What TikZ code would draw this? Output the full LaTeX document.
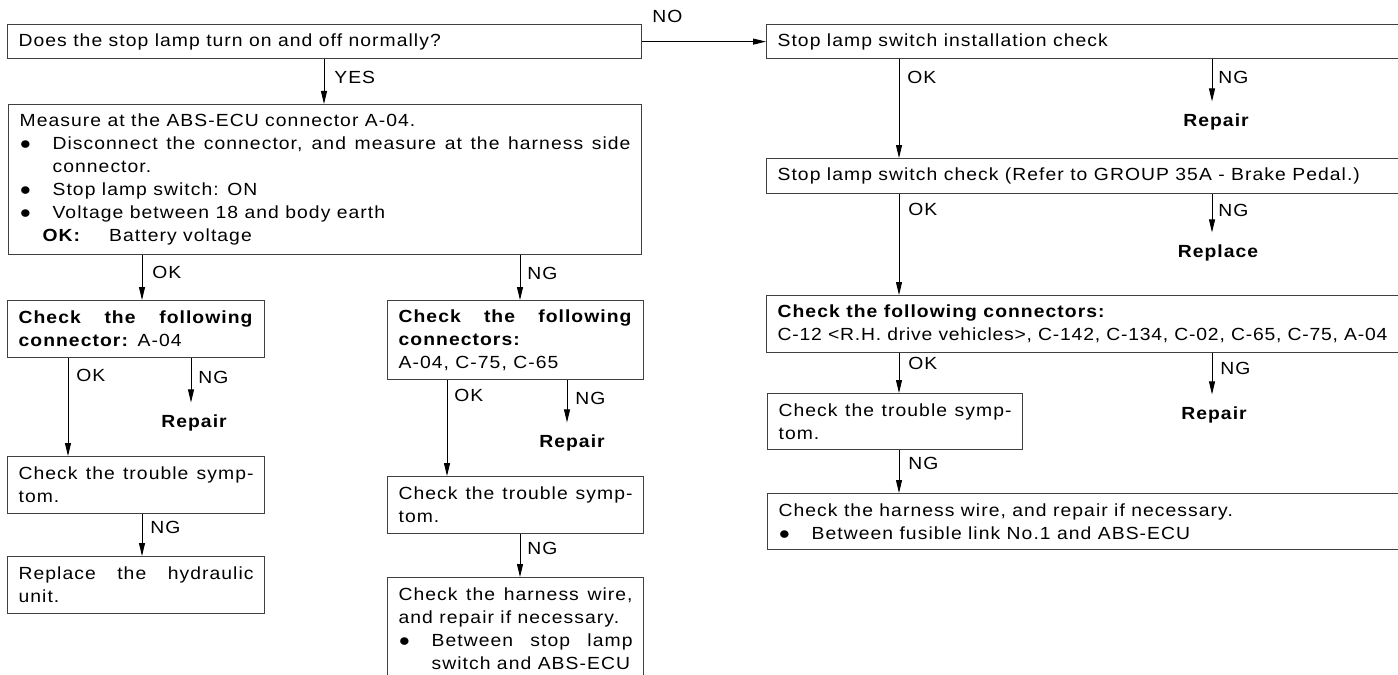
\documentclass[tikz,border=0pt]{standalone}
\usepackage{fontspec}
\setmainfont{Liberation Sans}[FakeStretch=1.1, LetterSpace=6]
\newfontfamily\tightfont{Liberation Sans}[FakeStretch=1.1, LetterSpace=4.5]
\usetikzlibrary{arrows.meta}
\setlength{\parindent}{0pt}
\newcommand{\bitem}{\hangindent=0.66cm\hangafter=1\makebox[0.66cm][l]{●}}

\begin{document}
\begin{tikzpicture}[x=0.02cm, y=-0.02cm,
    box/.style={draw=black!75, line width=0.7pt, anchor=north west, inner xsep=0.22cm, inner ysep=0pt,
        align=justify, font=\fontsize{10}{13.1}\selectfont},
    lbl/.style={anchor=west, inner sep=0pt, font=\fontsize{10}{13.1}\selectfont},
    word/.style={anchor=base, inner sep=0pt, font=\fontsize{10}{13.1}\selectfont\bfseries},
    arr/.style={-{Triangle[length=0.26cm, width=0.12cm]}, line width=0.5pt}]
    \useasboundingbox (0,0) rectangle (1398,675);
    \clip (0,0) rectangle (1398,675);
    \fill[white] (0,0) rectangle (1398,675);

    % 判断框
    \node[box, text width=12.24cm, minimum height=0.68cm] (q) at (7,24) {Does the stop lamp turn on and off normally?};

    % 左列
    \node[box, text width=12.22cm, minimum height=3cm] (m) at (8,104) {Measure at the ABS-ECU connector A-04.\par
        \bitem Disconnect the connector, and measure at the harness side\linebreak connector.\par
        \bitem Stop lamp switch: ON\par
        \bitem Voltage between 18 and body earth\par
        \hspace*{0.46cm}\textbf{OK:}\hspace{0.56cm}Battery voltage};
    \node[box, text width=4.7cm, minimum height=1.14cm] (c1) at (7,300) {\textbf{Check the following}\linebreak\textbf{connector:} A-04};
    \node[box, text width=4.68cm, minimum height=1.58cm] (c2) at (387,300) {\textbf{Check the following}\linebreak\textbf{connectors:}\par A-04, C-75, C-65};
    \node[box, text width=4.7cm, minimum height=1.14cm] (t1) at (7,456) {Check the trouble symp-\linebreak tom.};
    \node[box, text width=4.7cm, minimum height=1.14cm] (h1) at (7,556) {Replace the hydraulic\linebreak unit.};
    \node[box, text width=4.68cm, minimum height=1.14cm] (t2) at (387,476) {Check the trouble symp-\linebreak tom.};
    \node[box, text width=4.68cm, minimum height=2.04cm] (w2) at (387,577) {Check the harness wire,\linebreak and repair if necessary.\par
        \bitem Between stop lamp\linebreak switch and ABS-ECU\par};

    % 右列
    \node[box, text width=12.28cm, minimum height=0.68cm] (r1) at (766,24) {Stop lamp switch installation check};
    \node[box, text width=12.28cm, minimum height=0.7cm] (r2) at (766,158) {Stop lamp switch check (Refer to GROUP 35A - Brake Pedal.)};
    \node[box, text width=12.28cm, minimum height=1.14cm] (r3) at (766,295) {\textbf{Check the following connectors:}\par
        {\tightfont C-12 <R.H. drive vehicles>, C-142, C-134, C-02, C-65, C-75, A-04}};
    \node[box, text width=4.66cm, minimum height=1.12cm] (t3) at (767,393) {Check the trouble symp-\linebreak tom.};
    \node[box, text width=12.26cm, minimum height=1.12cm] (w3) at (767,493) {Check the harness wire, and repair if necessary.\par
        \bitem Between fusible link No.1 and ABS-ECU\par};

    % 处理结果
    \node[word] (rep1) at (194,427.5) {Repair};
    \node[word] (rep2) at (572,447.5) {Repair};
    \node[word] (rep3) at (1216,126.5) {Repair};
    \node[word] (rep4) at (1218,257.5) {Replace};
    \node[word] (rep5) at (1214,419.5) {Repair};

    % 箭头位置
    \foreach \n/\x in {yes/324, okA/142, ngA/520, okB/68, ngB/191, okC/447, ngC/567, okD/899, ngD/1212}
        \coordinate (\n) at (\x,0);

    % 箭头
    \draw[arr] (q.east) -- (r1.west);
    \draw[arr] (q.south -| yes) -- (m.north -| yes);
    \draw[arr] (m.south -| okA) -- (c1.north -| okA);
    \draw[arr] (m.south -| ngA) -- (c2.north -| ngA);
    \draw[arr] (c1.south -| okB) -- (t1.north -| okB);
    \draw[arr, shorten >=0.24cm] (c1.south -| ngB) -- (rep1.north -| ngB);
    \draw[arr] (t1.south -| okA) -- (h1.north -| okA);
    \draw[arr] (c2.south -| okC) -- (t2.north -| okC);
    \draw[arr, shorten >=0.24cm] (c2.south -| ngC) -- (rep2.north -| ngC);
    \draw[arr] (t2.south -| ngA) -- (w2.north -| ngA);
    \draw[arr] (r1.south -| okD) -- (r2.north -| okD);
    \draw[arr, shorten >=0.24cm] (r1.south -| ngD) -- (rep3.north -| ngD);
    \draw[arr] (r2.south -| okD) -- (r3.north -| okD);
    \draw[arr, shorten >=0.24cm] (r2.south -| ngD) -- (rep4.north -| ngD);
    \draw[arr] (r3.south -| okD) -- (t3.north -| okD);
    \draw[arr, shorten >=0.24cm] (r3.south -| ngD) -- (rep5.north -| ngD);
    \draw[arr] (t3.south -| okD) -- (w3.north -| okD);

    % 分支标签
    \node[lbl] (lno) at (652,16) {NO};
    \node[lbl] (lyes) at (334,77) {YES};
    \node[lbl] (lokA) at (152,272) {OK};
    \node[lbl] (lngA) at (527,273) {NG};
    \node[lbl] (lokB) at (76,375) {OK};
    \node[lbl] (lngB) at (198,377) {NG};
    \node[lbl] (lngT1) at (150,527) {NG};
    \node[lbl] (lokC) at (454,395) {OK};
    \node[lbl] (lngC) at (575,398) {NG};
    \node[lbl] (lngT2) at (527,548) {NG};
    \node[lbl] (lokR1) at (907,77) {OK};
    \node[lbl] (lngR1) at (1218,77) {NG};
    \node[lbl] (lokR2) at (908,209) {OK};
    \node[lbl] (lngR2) at (1218,210) {NG};
    \node[lbl] (lokR3) at (908,363) {OK};
    \node[lbl] (lngR3) at (1220,368) {NG};
    \node[lbl] (lngT3) at (908,463) {NG};
\end{tikzpicture}
\end{document}
